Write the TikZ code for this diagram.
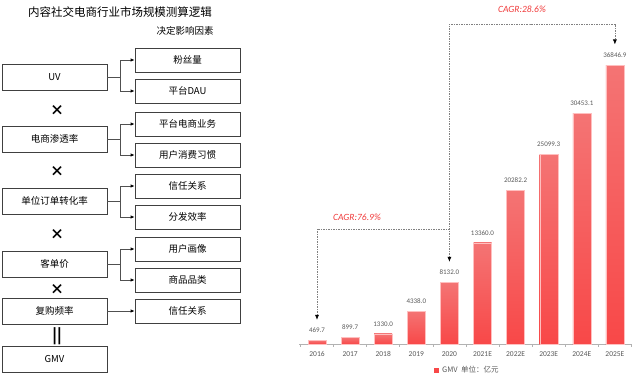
\documentclass[tikz,border=0pt]{standalone}
\usepackage{fontspec}
\setmainfont{Noto Sans CJK SC}
\newfontfamily\numfont{Carlito}
\usetikzlibrary{arrows.meta}
\definecolor{boxline}{HTML}{404040}
\definecolor{linkgray}{HTML}{505050}
\definecolor{bartop}{HTML}{F47474}
\definecolor{barbot}{HTML}{F84848}
\definecolor{cagrred}{HTML}{F03C3C}
\definecolor{labgray}{HTML}{595959}
\newcommand{\fs}[1]{\fontsize{#1}{#1}\selectfont}
\begin{document}
\begin{tikzpicture}[x=1pt,y=-1pt,
		metric/.style={draw=boxline, line width=0.8pt, minimum width=105pt, minimum height=26pt, inner sep=0pt, font=\fs{9.5}},
		factor/.style={draw=boxline, line width=0.8pt, minimum width=105pt, minimum height=24pt, inner sep=0pt, font=\fs{9.5}},
		times/.style={font=\fs{14}\bfseries, inner sep=0pt},
		link/.style={draw=linkgray, line width=0.8pt, -{Latex[length=4pt,width=3.5pt,black]}},
		cagr/.style={draw=gray, line width=0.6pt, dash pattern=on 1.5pt off 1pt, shorten <=7pt, shorten >=7pt},
		cagrtext/.style={font=\numfont\itshape\fs{9.5}, text=cagrred}]
		\useasboundingbox (0,0) rectangle (640,383);
		
		\node (title) at (120,12) {\fs{11.5}内容社交电商行业市场规模测算逻辑};
		\node (head) at (185,31) {\fs{9.5}决定影响因素};
		
		\node[metric] (uv) at (54.5,77) {UV};
		\node[metric] (pen) at (54.5,139) {电商渗透率};
		\node[metric] (conv) at (54.5,201) {单位订单转化率};
		\node[metric] (price) at (54.5,264) {客单价};
		\node[metric] (rebuy) at (54.5,311) {复购频率};
		\node[metric] (gmv) at (54.5,359) {GMV};
		
		\node[times] (x1) at (57,110) {×};
		\node[times] (x2) at (57,171) {×};
		\node[times] (x3) at (57,234) {×};
		\node[times] (x4) at (57,289) {×};
		\node[font=\fs{15}\bfseries, inner sep=0pt] (eq) at (57,336) {||};
		
		\node[factor] (fans) at (187.5,60) {粉丝量};
		\node[factor] (dau) at (187.5,91) {平台DAU};
		\node[factor] (biz) at (187.5,124) {平台电商业务};
		\node[factor] (habit) at (187.5,155) {用户消费习惯};
		\node[factor] (trust) at (187.5,186) {信任关系};
		\node[factor] (dist) at (187.5,217) {分发效率};
		\node[factor] (portrait) at (187.5,249) {用户画像};
		\node[factor] (cat) at (187.5,280) {商品品类};
		\node[factor] (trustb) at (187.5,311) {信任关系};
		
		\draw[link] (uv.east) -- ++(13,0) |- (fans.west);
		\draw[link] (uv.east) -- ++(13,0) |- (dau.west);
		\draw[link] (pen.east) -- ++(13,0) |- (biz.west);
		\draw[link] (pen.east) -- ++(13,0) |- (habit.west);
		\draw[link] (conv.east) -- ++(13,0) |- (trust.west);
		\draw[link] (conv.east) -- ++(13,0) |- (dist.west);
		\draw[link] (price.east) -- ++(13,0) |- (portrait.west);
		\draw[link] (price.east) -- ++(13,0) |- (cat.west);
		\draw[link] (rebuy.east) -- (trustb.west);
		
		\draw[gray!60, line width=0.6pt] (299,344) -- (631,344);
		\foreach \k in {0,...,10}
			\draw[gray!60, line width=0.6pt] (300.45+\k*33.1,344) -- ++(0,3);
		\foreach \yr/\val/\bh [count=\i] in {2016/469.7/3.56, 2017/899.7/6.81, 2018/1330.0/10.07, 2019/4338.0/32.84, 2020/8132.0/61.56, 2021E/13360.0/101.14, 2022E/20282.2/153.54, 2023E/25099.3/190.0, 2024E/30453.1/230.53, 2025E/36846.9/278.93} {
			\pgfmathsetmacro{\bx}{317+(\i-1)*33.1}
			\shade[top color=bartop, bottom color=barbot, draw=red!25, line width=0.4pt] (\bx-9,344) rectangle (\bx+9,344-\bh);
			\node[font=\numfont\fs{7}, text=labgray, inner sep=1pt] (v\i) at (\bx,334-\bh) {\val};
			\node[font=\numfont\fs{7.5}, text=labgray, inner sep=1pt] (y\i) at (\bx,354) {\yr};
		}
		
		\coordinate (top) at (530,24);
		\coordinate (mid) at (449.4,229);
		\draw[cagr, {Latex[length=5pt,width=4pt,black]}-{Latex[length=5pt,width=4pt,black]}] (v5.north) |- (top) -| (v10.north);
		\draw[cagr, {Latex[length=5pt,width=4pt,black]}-, shorten >=0pt] (v1.north) |- (mid);
		\node[cagrtext] (g1) at (522,9) {CAGR:28.6\%};
		\node[cagrtext] (g2) at (357,217) {CAGR:76.9\%};
		
		\fill[barbot] (433.5,367.5) rectangle (438.5,372.5);
		\node[anchor=west, font=\fs{7.5}, text=labgray, inner sep=1pt] (legend) at (441,370) {GMV\ \ 单位：亿元};
	\end{tikzpicture}
\end{document}
